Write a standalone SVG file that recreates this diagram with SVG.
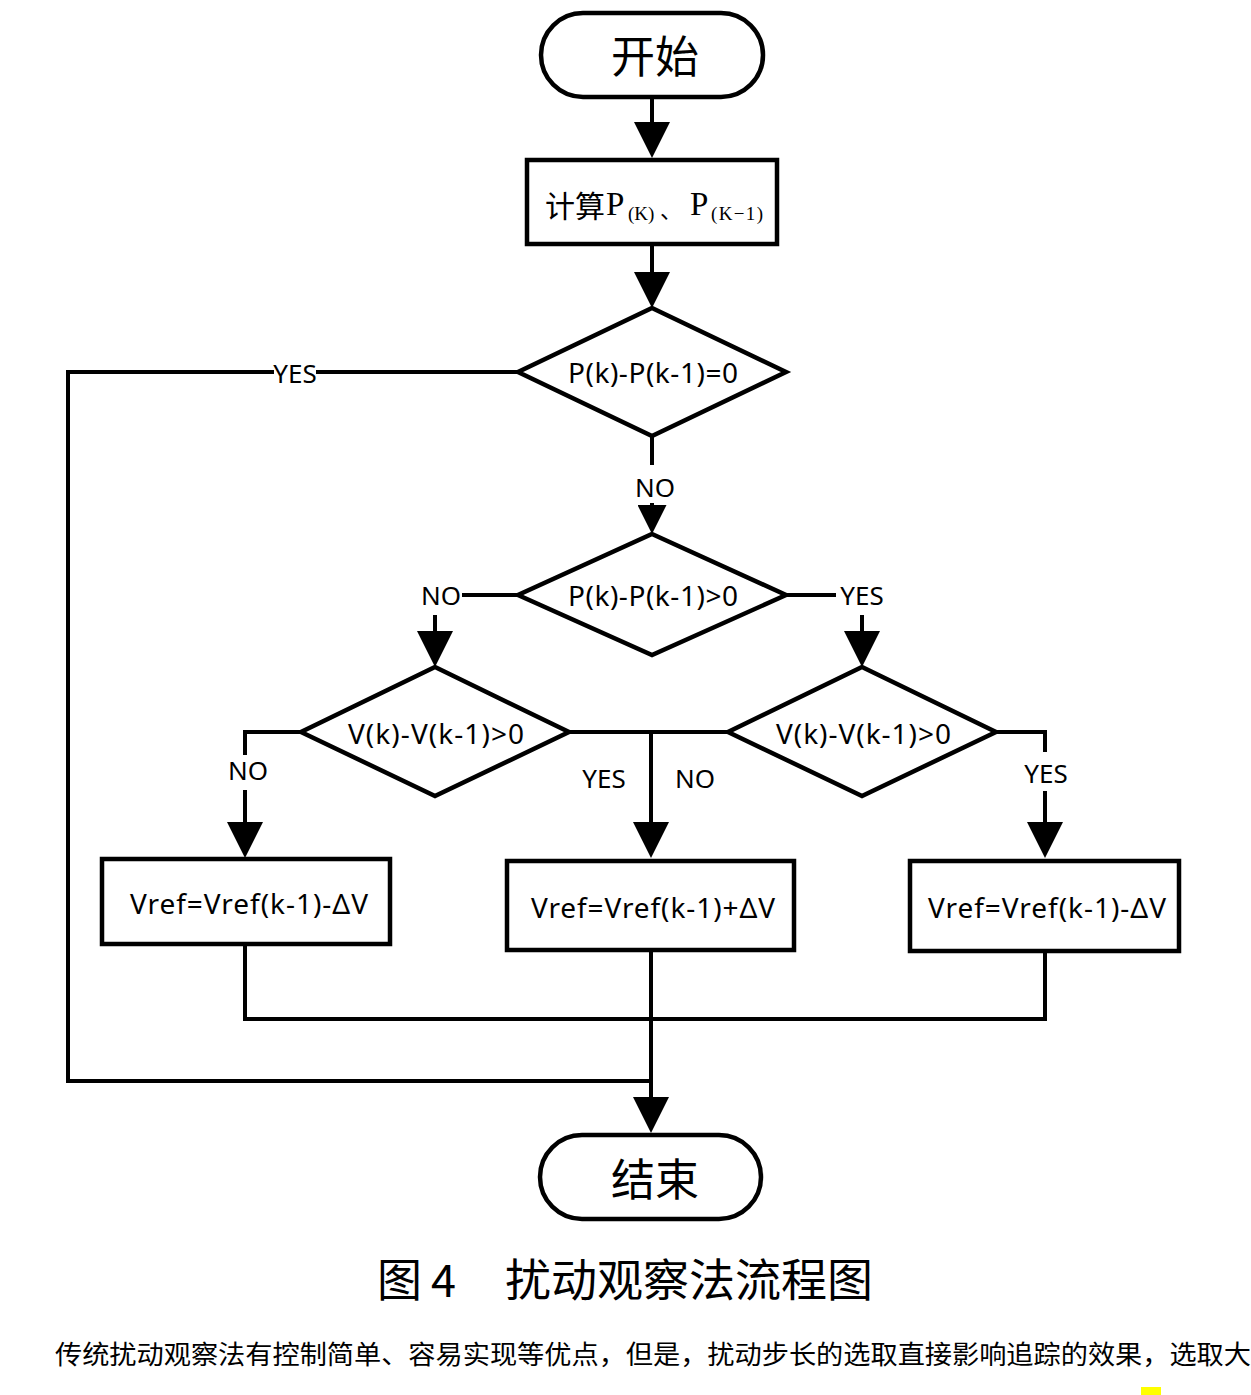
<svg xmlns="http://www.w3.org/2000/svg" width="1251" height="1395" viewBox="0 0 1251 1395">
<style>
.shape{fill:#fff;stroke:#000;stroke-width:4.5}
.conn{fill:none;stroke:#000;stroke-width:4;stroke-linejoin:miter;stroke-linecap:butt}
.lbl{font-family:"Noto Sans","Open Sans","Liberation Sans",sans-serif;font-size:26px;fill:#000}
.cond{font-family:"Noto Sans","Open Sans","Liberation Sans",sans-serif;font-size:28px;fill:#000}
.cjk{font-family:"Noto Sans CJK SC","Noto Sans",sans-serif;fill:#000}
.ser{font-family:"Liberation Serif","Noto Sans CJK SC",serif;fill:#000}
</style>
<defs>
<marker id="arr" markerUnits="userSpaceOnUse" viewBox="0 0 36 36" markerWidth="36" markerHeight="36" refX="0" refY="18" orient="auto">
<path d="M0,0 L36,18 L0,36 Z" fill="#000"/>
</marker>
<marker id="arrS" markerUnits="userSpaceOnUse" viewBox="0 0 29 29" markerWidth="29" markerHeight="29" refX="0" refY="14.5" orient="auto">
<path d="M0,0 L29,14.5 L0,29 Z" fill="#000"/>
</marker>
</defs>
<rect width="1251" height="1395" fill="#fff"/>

<g id="connectors">
<path class="conn" d="M652,97 V122" marker-end="url(#arr)"/>
<path class="conn" d="M652,244 V272" marker-end="url(#arr)"/>
<path class="conn" d="M652,436 V465"/>
<path class="conn" d="M652,503 V505" marker-end="url(#arrS)"/>
<path class="conn" d="M517,595 H462"/>
<path class="conn" d="M435,615 V631" marker-end="url(#arr)"/>
<path class="conn" d="M786,595 H836"/>
<path class="conn" d="M862,615 V631" marker-end="url(#arr)"/>
<path class="conn" d="M301,732 H245 V755"/>
<path class="conn" d="M245,790 V822" marker-end="url(#arr)"/>
<path class="conn" d="M569,732 H728"/>
<path class="conn" d="M651,732 V822" marker-end="url(#arr)"/>
<path class="conn" d="M996,732 H1045 V752"/>
<path class="conn" d="M1045,791 V822" marker-end="url(#arr)"/>
<path class="conn" d="M245,944 V1019 H1045 V951"/>
<path class="conn" d="M651,950 V1097" marker-end="url(#arr)"/>
<path class="conn" d="M517,372 H68 V1081 H651"/>
<rect x="274" y="360" width="42" height="26" fill="#fff"/>
<text class="lbl" x="295" y="383" text-anchor="middle">YES</text>
<text class="lbl" x="655" y="497" text-anchor="middle">NO</text>
<text class="lbl" x="441" y="605" text-anchor="middle">NO</text>
<text class="lbl" x="862" y="605" text-anchor="middle">YES</text>
<text class="lbl" x="248" y="780" text-anchor="middle">NO</text>
<text class="lbl" x="604" y="788" text-anchor="middle">YES</text>
<text class="lbl" x="695" y="788" text-anchor="middle">NO</text>
<text class="lbl" x="1046" y="783" text-anchor="middle">YES</text>
</g>

<g id="start">
<rect class="shape" x="541" y="13" width="222" height="84" rx="42" ry="42"/>
<text class="cjk" x="655" y="73" font-size="44" text-anchor="middle">开始</text>
</g>

<g id="calc">
<rect class="shape" x="527" y="160" width="250" height="84"/>
<text class="cjk" x="545" y="217" font-size="30">计算</text>
<text class="ser" x="606" y="215" font-size="33">P</text>
<text class="ser" x="628" y="220" font-size="19">(K)</text>
<text class="cjk" x="660" y="218" font-size="22">、</text>
<text class="ser" x="690" y="215" font-size="33">P</text>
<text class="ser" x="711" y="220" font-size="19" textLength="52" lengthAdjust="spacing">(K−1)</text>
</g>

<g id="d1">
<polygon class="shape" points="652,308 786,372 652,436 518,372"/>
<text class="cond" x="568" y="383" textLength="170" lengthAdjust="spacing">P(k)-P(k-1)=0</text>
</g>

<g id="d2">
<polygon class="shape" points="652,534 786,595 652,655 518,595"/>
<text class="cond" x="568" y="606" textLength="170" lengthAdjust="spacing">P(k)-P(k-1)&gt;0</text>
</g>

<g id="d3">
<polygon class="shape" points="435,667 569,732 435,796 301,732"/>
<text class="cond" x="348" y="744" textLength="176" lengthAdjust="spacing">V(k)-V(k-1)&gt;0</text>
</g>

<g id="d4">
<polygon class="shape" points="862,667 996,732 862,796 728,732"/>
<text class="cond" x="776" y="744" textLength="175" lengthAdjust="spacing">V(k)-V(k-1)&gt;0</text>
</g>

<g id="box1">
<rect class="shape" x="102" y="859" width="288" height="85"/>
<text class="cond" x="130" y="914" textLength="238" lengthAdjust="spacing">Vref=Vref(k-1)-ΔV</text>
</g>

<g id="box2">
<rect class="shape" x="507" y="861" width="287" height="89"/>
<text class="cond" x="531" y="918" textLength="244" lengthAdjust="spacing">Vref=Vref(k-1)+ΔV</text>
</g>

<g id="box3">
<rect class="shape" x="910" y="861" width="269" height="90"/>
<text class="cond" x="928" y="918" textLength="238" lengthAdjust="spacing">Vref=Vref(k-1)-ΔV</text>
</g>

<g id="end">
<rect class="shape" x="540" y="1135" width="221" height="84" rx="42" ry="42"/>
<text class="cjk" x="655" y="1196" font-size="44" text-anchor="middle">结束</text>
</g>

<g id="caption">
<text class="cjk" x="377" y="1297" font-size="45">图</text>
<text class="cjk" x="431" y="1297" font-size="45">4</text>
<text class="cjk" x="505" y="1297" font-size="45" textLength="368" lengthAdjust="spacingAndGlyphs">扰动观察法流程图</text>
</g>

<g id="paragraph">
<text class="cjk" x="55" y="1364" font-size="26" textLength="1196" lengthAdjust="spacingAndGlyphs">传统扰动观察法有控制简单、容易实现等优点，但是，扰动步长的选取直接影响追踪的效果，选取大</text>
<rect x="1141" y="1387" width="20" height="8" fill="#ff0"/>
</g>
</svg>
